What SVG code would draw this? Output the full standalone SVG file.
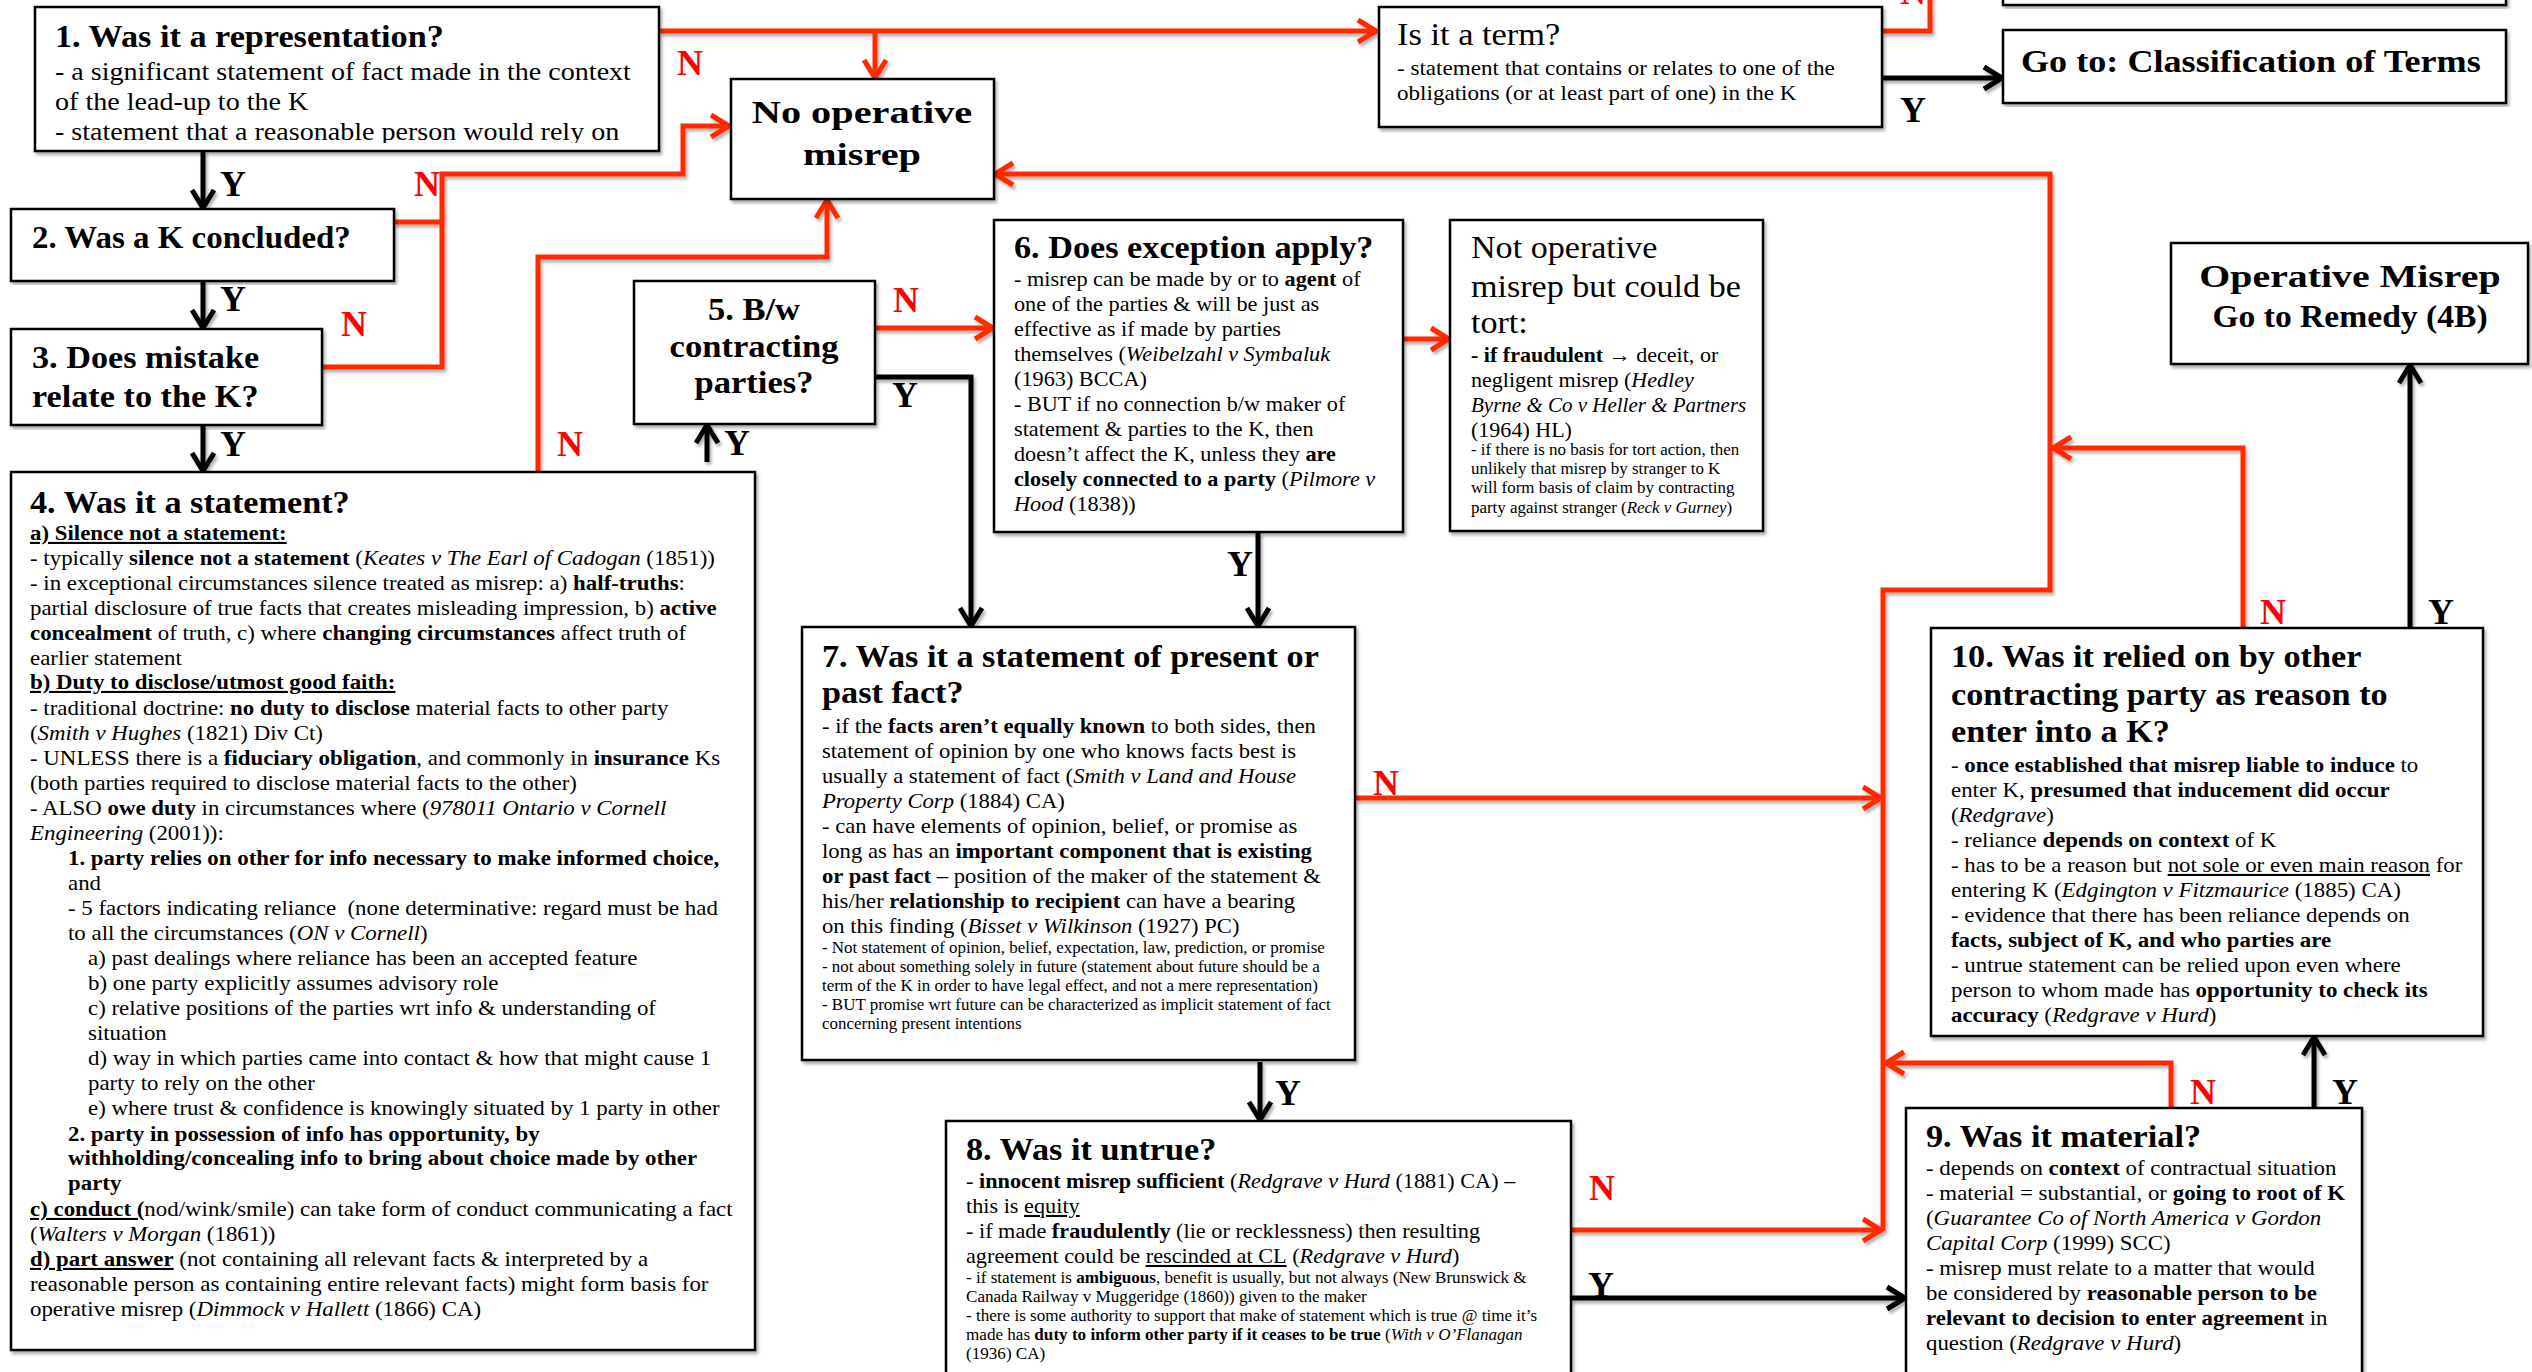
<svg xmlns="http://www.w3.org/2000/svg" width="2532" height="1372" viewBox="0 0 2532 1372">
<style>
  .box { fill: #fff; stroke: #000; stroke-width: 2.5; }
  text { font-family: "Liberation Serif", "Times New Roman", serif; fill: #000; }
  .title { font-weight: bold; font-size: 32px; }
  .body { font-size: 21px; }
  .small { font-size: 16px; }
  .b { font-weight: bold; }
  .i { font-style: italic; }
  .u { text-decoration: underline; }
  .red { fill: none; stroke: #ff2a00; stroke-width: 5; }
  .blk { fill: none; stroke: #000; stroke-width: 5; }
  .lab { font-weight: bold; font-size: 36px; text-anchor: middle; }
  .n { fill: #ff0000; }
  .mid { text-anchor: middle; }
</style>
<defs>
  <filter id="sh" x="-5%" y="-5%" width="110%" height="110%">
    <feDropShadow dx="2" dy="3" stdDeviation="1.5" flood-color="#000" flood-opacity="0.3"/>
  </filter>
  <marker id="ar" viewBox="0 0 26 28" refX="22" refY="14" markerWidth="26" markerHeight="28" orient="auto" markerUnits="userSpaceOnUse">
    <path d="M3,3 L21,14 L3,25" fill="none" stroke="#ff2a00" stroke-width="5"/>
  </marker>
  <marker id="ab" viewBox="0 0 26 28" refX="22" refY="14" markerWidth="26" markerHeight="28" orient="auto" markerUnits="userSpaceOnUse">
    <path d="M3,3 L21,14 L3,25" fill="none" stroke="#000" stroke-width="5"/>
  </marker>
  <clipPath id="clip1"><rect x="0" y="7" width="700" height="136"/></clipPath>
</defs>
<rect width="2532" height="1372" fill="#fff"/>

<!-- connectors -->
<g id="connectors" filter="url(#sh)">
  <!-- N paths (red) -->
  <path class="red" d="M659,31 H1377" marker-end="url(#ar)"/>
  <path class="red" d="M875,31 V79" marker-end="url(#ar)"/>
  <path class="red" d="M394,222 H442"/>
  <path class="red" d="M322,367 H442 V174 H683 V126 H730" marker-end="url(#ar)"/>
  <path class="red" d="M538,472 V257 H827 V199" marker-end="url(#ar)"/>
  <path class="red" d="M875,328 H994" marker-end="url(#ar)"/>
  <path class="red" d="M1403,339 H1450" marker-end="url(#ar)"/>
  <path class="red" d="M1355,798 H1882" marker-end="url(#ar)"/>
  <path class="red" d="M1571,1230 H1882" marker-end="url(#ar)"/>
  <path class="red" d="M1883,1230 V590 H2050 V174 H994" marker-end="url(#ar)"/>
  <path class="red" d="M2243,628 V448 H2052" marker-end="url(#ar)"/>
  <path class="red" d="M2171,1108 V1063 H1885" marker-end="url(#ar)"/>
  <path class="red" d="M1882,31 H1930 V-10"/>
  <!-- Y paths (black) -->
  <path class="blk" d="M203,151 V209" marker-end="url(#ab)"/>
  <path class="blk" d="M203,281 V329" marker-end="url(#ab)"/>
  <path class="blk" d="M203,425 V472" marker-end="url(#ab)"/>
  <path class="blk" d="M707,462 V424" marker-end="url(#ab)"/>
  <path class="blk" d="M875,377 H971 V627" marker-end="url(#ab)"/>
  <path class="blk" d="M1258,532 V627" marker-end="url(#ab)"/>
  <path class="blk" d="M1260,1062 V1121" marker-end="url(#ab)"/>
  <path class="blk" d="M1571,1298 H1906" marker-end="url(#ab)"/>
  <path class="blk" d="M2314,1108 V1036" marker-end="url(#ab)"/>
  <path class="blk" d="M2410,628 V364" marker-end="url(#ab)"/>
  <path class="blk" d="M1882,78 H2003" marker-end="url(#ab)"/>
</g>

<!-- connector labels -->
<g id="labels">
  <text class="lab" x="233" y="196">Y</text>
  <text class="lab" x="233" y="311">Y</text>
  <text class="lab" x="233" y="456">Y</text>
  <text class="lab n" x="690" y="75">N</text>
  <text class="lab n" x="427" y="196">N</text>
  <text class="lab n" x="354" y="336">N</text>
  <text class="lab n" x="570" y="456">N</text>
  <text class="lab" x="737" y="455">Y</text>
  <text class="lab n" x="906" y="312">N</text>
  <text class="lab" x="905" y="407">Y</text>
  <text class="lab" x="1240" y="576">Y</text>
  <text class="lab n" x="1386" y="795">N</text>
  <text class="lab" x="1288" y="1105">Y</text>
  <text class="lab n" x="1602" y="1200">N</text>
  <text class="lab" x="1601" y="1297">Y</text>
  <text class="lab n" x="2203" y="1104">N</text>
  <text class="lab" x="2345" y="1104">Y</text>
  <text class="lab n" x="2273" y="624">N</text>
  <text class="lab" x="2441" y="624">Y</text>
  <text class="lab" x="1913" y="122">Y</text>
  <text class="lab n" x="1913" y="4">N</text>
</g>

<!-- 1 -->
<g id="node-1">
  <rect class="box" x="35" y="7" width="624" height="144" filter="url(#sh)"/>
  <text class="title" x="55" y="47" transform="matrix(1.07 0 0 1 -3.85 0)">1. Was it a representation?</text>
  <g clip-path="url(#clip1)">
    <g font-size="26" transform="matrix(1.08 0 0 1 -4.4 0)">
      <text x="55" y="80">- a significant statement of fact made in the context</text>
      <text x="55" y="110">of the lead-up to the K</text>
      <text x="55" y="140">- statement that a reasonable person would rely on</text>
    </g>
  </g>
</g>

<!-- 2 -->
<g id="node-2">
  <rect class="box" x="11" y="209" width="383" height="72" filter="url(#sh)"/>
  <text class="title" x="32" y="248" transform="matrix(1.03 0 0 1 -0.96 0)">2. Was a K concluded?</text>
</g>

<!-- 3 -->
<g id="node-3">
  <rect class="box" x="11" y="329" width="311" height="96" filter="url(#sh)"/>
  <g transform="matrix(1.07 0 0 1 -2.24 0)" class="title" font-size="33">
    <text x="32" y="368">3. Does mistake</text>
    <text x="32" y="407">relate to the K?</text>
  </g>
</g>

<!-- no operative misrep -->
<g id="node-no-op">
  <rect class="box" x="731" y="79" width="263" height="120" filter="url(#sh)"/>
  <g transform="matrix(1.26 0 0 1 -224.12 0)" class="title mid" font-size="38">
    <text x="862" y="123">No operative</text>
    <text x="862" y="165">misrep</text>
  </g>
</g>

<!-- term -->
<g id="node-term">
  <rect class="box" x="1379" y="7" width="503" height="120" filter="url(#sh)"/>
  <text x="1397" y="45" font-size="31" transform="matrix(1.11 0 0 1 -153.67 0)">Is it a term?</text>
  <g font-size="21" transform="matrix(1.1 0 0 1 -139.7 0)">
    <text x="1397" y="75">- statement that contains or relates to one of the</text>
    <text x="1397" y="100">obligations (or at least part of one) in the K</text>
  </g>
</g>

<!-- top-right box, mostly off-canvas -->
<g id="node-top">
  <rect class="box" x="2003" y="-60" width="503" height="65" filter="url(#sh)"/>
</g>

<!-- classification -->
<g id="node-class">
  <rect class="box" x="2003" y="30" width="503" height="73" filter="url(#sh)"/>
  <text class="title" x="2021" y="72" font-size="34" transform="matrix(1.13 0 0 1 -262.73 0)">Go to: Classification of Terms</text>
</g>

<!-- operative misrep -->
<g id="node-op">
  <rect class="box" x="2171" y="243" width="357" height="121" filter="url(#sh)"/>
  <text class="title mid" x="2350" y="287" font-size="37" transform="matrix(1.245 0 0 1 -575.75 0)">Operative Misrep</text>
  <text class="title mid" x="2350" y="327" font-size="30" transform="matrix(1.05 0 0 1 -117.5 0)">Go to Remedy (4B)</text>
</g>

<!-- 4 -->
<g id="node-4">
  <rect class="box" x="11" y="472" width="744" height="878" filter="url(#sh)"/>
  <text class="title" x="30" y="513" transform="matrix(1.07 0 0 1 -2.1 0)">4. Was it a statement?</text>
  <g class="body" transform="matrix(1.09 0 0 1 -2.7 0)">
    <text x="30" y="540" class="b u">a) Silence not a statement:</text>
    <text x="30" y="565">- typically <tspan class="b">silence not a statement</tspan> (<tspan class="i">Keates v The Earl of Cadogan</tspan> (1851))</text>
    <text x="30" y="590">- in exceptional circumstances silence treated as misrep: a) <tspan class="b">half-truths</tspan>:</text>
    <text x="30" y="615">partial disclosure of true facts that creates misleading impression, b) <tspan class="b">active</tspan></text>
    <text x="30" y="640"><tspan class="b">concealment</tspan> of truth, c) where <tspan class="b">changing circumstances</tspan> affect truth of</text>
    <text x="30" y="665">earlier statement</text>
    <text x="30" y="689" class="b u">b) Duty to disclose/utmost good faith:</text>
    <text x="30" y="715">- traditional doctrine: <tspan class="b">no duty to disclose</tspan> material facts to other party</text>
    <text x="30" y="740">(<tspan class="i">Smith v Hughes</tspan> (1821) Div Ct)</text>
    <text x="30" y="765">- UNLESS there is a <tspan class="b">fiduciary obligation</tspan>, and commonly in <tspan class="b">insurance</tspan> Ks</text>
    <text x="30" y="790">(both parties required to disclose material facts to the other)</text>
    <text x="30" y="815">- ALSO <tspan class="b">owe duty</tspan> in circumstances where (<tspan class="i">978011 Ontario v Cornell</tspan></text>
    <text x="30" y="840"><tspan class="i">Engineering</tspan> (2001)):</text>
    <text x="64.86" y="865" class="b">1. party relies on other for info necessary to make informed choice,</text>
    <text x="64.86" y="890">and</text>
    <text x="64.86" y="915">- 5 factors indicating reliance&#160; (none determinative: regard must be had</text>
    <text x="64.86" y="940">to all the circumstances (<tspan class="i">ON v Cornell</tspan>)</text>
    <text x="83.21" y="965">a) past dealings where reliance has been an accepted feature</text>
    <text x="83.21" y="990">b) one party explicitly assumes advisory role</text>
    <text x="83.21" y="1015">c) relative positions of the parties wrt info &amp; understanding of</text>
    <text x="83.21" y="1040">situation</text>
    <text x="83.21" y="1065">d) way in which parties came into contact &amp; how that might cause 1</text>
    <text x="83.21" y="1090">party to rely on the other</text>
    <text x="83.21" y="1115">e) where trust &amp; confidence is knowingly situated by 1 party in other</text>
    <text x="64.86" y="1141" class="b">2. party in possession of info has opportunity, by</text>
    <text x="64.86" y="1165" class="b">withholding/concealing info to bring about choice made by other</text>
    <text x="64.86" y="1190" class="b">party</text>
    <text x="30" y="1216"><tspan class="b u">c) conduct (</tspan>nod/wink/smile) can take form of conduct communicating a fact</text>
    <text x="30" y="1241">(<tspan class="i">Walters v Morgan</tspan> (1861))</text>
    <text x="30" y="1266"><tspan class="b u">d) part answer</tspan> (not containing all relevant facts &amp; interpreted by a</text>
    <text x="30" y="1291">reasonable person as containing entire relevant facts) might form basis for</text>
    <text x="30" y="1316">operative misrep (<tspan class="i">Dimmock v Hallett</tspan> (1866) CA)</text>
  </g>
</g>

<!-- 5 -->
<g id="node-5">
  <rect class="box" x="634" y="281" width="241" height="143" filter="url(#sh)"/>
  <g class="title mid" font-size="32" transform="matrix(1.08 0 0 1 -60.32 0)">
    <text x="754" y="320">5. B/w</text>
    <text x="754" y="357">contracting</text>
    <text x="754" y="393">parties?</text>
  </g>
</g>

<!-- 6 -->
<g id="node-6">
  <rect class="box" x="994" y="220" width="409" height="312" filter="url(#sh)"/>
  <text class="title" x="1014" y="258" transform="matrix(1.07 0 0 1 -70.98 0)">6. Does exception apply?</text>
  <g class="body" transform="matrix(1.06 0 0 1 -60.84 0)">
    <text x="1014" y="286">- misrep can be made by or to <tspan class="b">agent</tspan> of</text>
    <text x="1014" y="311">one of the parties &amp; will be just as</text>
    <text x="1014" y="336">effective as if made by parties</text>
    <text x="1014" y="361">themselves (<tspan class="i">Weibelzahl v Symbaluk</tspan></text>
    <text x="1014" y="386">(1963) BCCA)</text>
    <text x="1014" y="411">- BUT if no connection b/w maker of</text>
    <text x="1014" y="436">statement &amp; parties to the K, then</text>
    <text x="1014" y="461">doesn’t affect the K, unless they <tspan class="b">are</tspan></text>
    <text x="1014" y="486"><tspan class="b">closely connected to a party</tspan> (<tspan class="i">Pilmore v</tspan></text>
    <text x="1014" y="511"><tspan class="i">Hood</tspan> (1838))</text>
  </g>
</g>

<!-- tort -->
<g id="node-tort">
  <rect class="box" x="1450" y="220" width="313" height="311" filter="url(#sh)"/>
  <g font-size="31" transform="matrix(1.1 0 0 1 -147.1 0)">
    <text x="1471" y="258">Not operative</text>
    <text x="1471" y="297">misrep but could be</text>
    <text x="1471" y="333">tort:</text>
  </g>
  <g class="body" transform="matrix(1.05 0 0 1 -73.55 0)">
    <text x="1471" y="362"><tspan class="b">- if fraudulent →</tspan> deceit, or</text>
    <text x="1471" y="387">negligent misrep (<tspan class="i">Hedley</tspan></text>
    <text x="1471" y="437">(1964) HL)</text>
  </g>
  <text x="1471" y="412" class="body i">Byrne &amp; Co v Heller &amp; Partners</text>
  <g class="small" transform="matrix(1.06 0 0 1 -88.26 0)">
    <text x="1471" y="455">- if there is no basis for tort action, then</text>
    <text x="1471" y="474">unlikely that misrep by stranger to K</text>
    <text x="1471" y="493">will form basis of claim by contracting</text>
    <text x="1471" y="513">party against stranger (<tspan class="i">Reck v Gurney</tspan>)</text>
  </g>
</g>

<!-- 7 -->
<g id="node-7">
  <rect class="box" x="802" y="627" width="553" height="433" filter="url(#sh)"/>
  <g class="title" transform="matrix(1.07 0 0 1 -57.54 0)">
    <text x="822" y="667">7. Was it a statement of present or</text>
    <text x="822" y="703">past fact?</text>
  </g>
  <g class="body" transform="matrix(1.08 0 0 1 -65.76 0)">
    <text x="822" y="733">- if the <tspan class="b">facts aren’t equally known</tspan> to both sides, then</text>
    <text x="822" y="758">statement of opinion by one who knows facts best is</text>
    <text x="822" y="783">usually a statement of fact (<tspan class="i">Smith v Land and House</tspan></text>
    <text x="822" y="808"><tspan class="i">Property Corp</tspan> (1884) CA)</text>
    <text x="822" y="833">- can have elements of opinion, belief, or promise as</text>
    <text x="822" y="858">long as has an <tspan class="b">important component that is existing</tspan></text>
    <text x="822" y="883"><tspan class="b">or past fact</tspan> – position of the maker of the statement &amp;</text>
    <text x="822" y="908">his/her <tspan class="b">relationship to recipient</tspan> can have a bearing</text>
    <text x="822" y="933">on this finding (<tspan class="i">Bisset v Wilkinson</tspan> (1927) PC)</text>
  </g>
  <g class="small" transform="matrix(1.06 0 0 1 -49.32 0)">
    <text x="822" y="953">- Not statement of opinion, belief, expectation, law, prediction, or promise</text>
    <text x="822" y="972">- not about something solely in future (statement about future should be a</text>
    <text x="822" y="991">term of the K in order to have legal effect, and not a mere representation)</text>
    <text x="822" y="1010">- BUT promise wrt future can be characterized as implicit statement of fact</text>
    <text x="822" y="1029">concerning present intentions</text>
  </g>
</g>

<!-- 8 -->
<g id="node-8">
  <rect class="box" x="946" y="1121" width="625" height="260" filter="url(#sh)"/>
  <text class="title" x="966" y="1160" transform="matrix(1.07 0 0 1 -67.62 0)">8. Was it untrue?</text>
  <g class="body" transform="matrix(1.06 0 0 1 -57.96 0)">
    <text x="966" y="1188">- <tspan class="b">innocent misrep sufficient</tspan> (<tspan class="i">Redgrave v Hurd</tspan> (1881) CA) –</text>
    <text x="966" y="1213">this is <tspan class="u">equity</tspan></text>
    <text x="966" y="1238">- if made <tspan class="b">fraudulently</tspan> (lie or recklessness) then resulting</text>
    <text x="966" y="1263">agreement could be <tspan class="u">rescinded at CL</tspan> (<tspan class="i">Redgrave v Hurd</tspan>)</text>
  </g>
  <g class="small" transform="matrix(1.07 0 0 1 -67.62 0)">
    <text x="966" y="1283">- if statement is <tspan class="b">ambiguous</tspan>, benefit is usually, but not always (New Brunswick &amp;</text>
    <text x="966" y="1302">Canada Railway v Muggeridge (1860)) given to the maker</text>
    <text x="966" y="1321">- there is some authority to support that make of statement which is true @ time it’s</text>
    <text x="966" y="1340">made has <tspan class="b">duty to inform other party if it ceases to be true</tspan> (<tspan class="i">With v O’Flanagan</tspan></text>
    <text x="966" y="1359">(1936) CA)</text>
  </g>
</g>

<!-- 9 -->
<g id="node-9">
  <rect class="box" x="1906" y="1108" width="456" height="270" filter="url(#sh)"/>
  <text class="title" x="1926" y="1147" transform="matrix(1.07 0 0 1 -134.82 0)">9. Was it material?</text>
  <g class="body" transform="matrix(1.09 0 0 1 -173.34 0)">
    <text x="1926" y="1175">- depends on <tspan class="b">context</tspan> of contractual situation</text>
    <text x="1926" y="1200">- material = substantial, or <tspan class="b">going to root of K</tspan></text>
    <text x="1926" y="1225">(<tspan class="i">Guarantee Co of North America v Gordon</tspan></text>
    <text x="1926" y="1250"><tspan class="i">Capital Corp</tspan> (1999) SCC)</text>
    <text x="1926" y="1275">- misrep must relate to a matter that would</text>
    <text x="1926" y="1300">be considered by <tspan class="b">reasonable person to be</tspan></text>
    <text x="1926" y="1325"><tspan class="b">relevant to decision to enter agreement</tspan> in</text>
    <text x="1926" y="1350">question (<tspan class="i">Redgrave v Hurd</tspan>)</text>
  </g>
</g>

<!-- 10 -->
<g id="node-10">
  <rect class="box" x="1931" y="628" width="552" height="408" filter="url(#sh)"/>
  <g class="title" transform="matrix(1.07 0 0 1 -136.57 0)">
    <text x="1951" y="667">10. Was it relied on by other</text>
    <text x="1951" y="705">contracting party as reason to</text>
    <text x="1951" y="742">enter into a K?</text>
  </g>
  <g class="body" transform="matrix(1.09 0 0 1 -175.59 0)">
    <text x="1951" y="772">- <tspan class="b">once established that misrep liable to induce</tspan> to</text>
    <text x="1951" y="797">enter K, <tspan class="b">presumed that inducement did occur</tspan></text>
    <text x="1951" y="822">(<tspan class="i">Redgrave</tspan>)</text>
    <text x="1951" y="847">- reliance <tspan class="b">depends on context</tspan> of K</text>
    <text x="1951" y="872">- has to be a reason but <tspan class="u">not sole or even main reason</tspan> for</text>
    <text x="1951" y="897">entering K (<tspan class="i">Edgington v Fitzmaurice</tspan> (1885) CA)</text>
    <text x="1951" y="922">- evidence that there has been reliance depends on</text>
    <text x="1951" y="947" class="b">facts, subject of K, and who parties are</text>
    <text x="1951" y="972">- untrue statement can be relied upon even where</text>
    <text x="1951" y="997">person to whom made has <tspan class="b">opportunity to check its</tspan></text>
    <text x="1951" y="1022"><tspan class="b">accuracy</tspan> (<tspan class="i">Redgrave v Hurd</tspan>)</text>
  </g>
</g>
</svg>
